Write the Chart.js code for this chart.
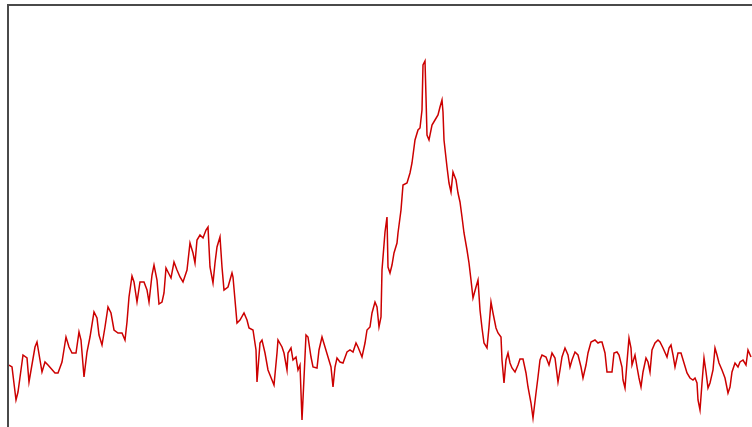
<!DOCTYPE html>
<html>
<head>
<meta charset="utf-8">
<script src="https://cdn.jsdelivr.net/npm/chart.js@4/dist/chart.umd.min.js"></script>
<style>
    html, body { margin: 0; padding: 0; background: #fff; }
    #wrap { width: 752px; height: 427px; position: relative; }
</style>
</head>
<body>
<div id="wrap"><canvas id="spectrum"></canvas></div>
<script>
// channel positions and counts
const channels = [
    0, 3, 7, 9, 14, 18, 20, 26, 28, 33, 36, 39, 46, 49, 53, 57, 60, 63, 67, 70,
    72, 75, 78, 81, 85, 88, 90, 93, 96, 99, 102, 105, 109, 113, 116, 118, 120, 123, 125, 128,
    131, 135, 138, 140, 143, 145, 148, 150, 153, 155, 157, 159, 162, 165, 168, 171, 174, 178, 181, 184,
    186, 188, 191, 194, 197, 199, 201, 204, 206, 208, 211, 213, 215, 219, 223, 224, 226, 228, 231, 235,
    238, 240, 244, 247, 248, 251, 253, 256, 259, 263, 265, 268, 269, 273, 275, 278, 279, 282, 284, 287,
    289, 291, 293, 295, 297, 299, 302, 304, 308, 310, 313, 316, 319, 322, 324, 326, 328, 331, 334, 338,
    341, 344, 347, 349, 353, 356, 358, 361, 363, 366, 368, 370, 372, 373, 376, 378, 379, 381, 383, 385,
    388, 389, 392, 394, 398, 401, 403, 406, 409, 411, 413, 414, 416, 417, 418, 420, 423, 426, 429, 431,
    433, 434, 435, 438, 440, 442, 444, 447, 449, 451, 453, 455, 458, 460, 462, 464, 467, 469, 471, 473,
    475, 478, 480, 482, 484, 487, 489, 492, 493, 495, 497, 499, 501, 503, 506, 509, 511, 514, 517, 519,
    522, 524, 527, 529, 531, 533, 537, 540, 543, 546, 549, 551, 553, 556, 559, 561, 563, 566, 569, 572,
    574, 577, 579, 582, 586, 589, 591, 593, 596, 598, 603, 605, 608, 610, 613, 614, 616, 618, 620, 622,
    623, 626, 628, 630, 632, 634, 637, 639, 641, 643, 646, 649, 651, 654, 658, 660, 662, 664, 666, 669,
    672, 675, 678, 681, 684, 686, 688, 689, 691, 693, 695, 697, 699, 701, 704, 706, 708, 710, 713, 716,
    719, 721, 723, 726, 729, 731, 734, 737, 739, 742
];
const counts = [
    62, 60, 27, 35, 72, 69, 45, 80, 85, 55, 65, 62, 54, 54, 65, 90, 80, 74, 74, 95,
    87, 50, 75, 90, 115, 109, 92, 82, 100, 120, 114, 97, 94, 94, 87, 105, 130, 151, 145, 125,
    145, 145, 137, 125, 152, 162, 147, 123, 125, 134, 159, 155, 149, 165, 157, 150, 145, 157, 184, 174,
    164, 187, 192, 189, 197, 200, 160, 144, 164, 180, 190, 160, 137, 140, 154, 150, 127, 104, 107, 114,
    107, 99, 97, 77, 45, 84, 87, 74, 57, 47, 42, 74, 87, 80, 74, 57, 74, 79, 67, 70,
    57, 62, 7, 49, 92, 90, 70, 60, 59, 77, 90, 80, 70, 60, 40, 60, 69, 65, 64, 75,
    77, 75, 84, 80, 70, 84, 97, 100, 114, 125, 120, 100, 110, 157, 195, 210, 160, 154, 162, 174,
    184, 194, 217, 242, 244, 254, 264, 287, 297, 299, 317, 362, 366, 330, 292, 287, 302, 307, 312, 320,
    327, 315, 287, 260, 244, 235, 255, 247, 234, 225, 210, 194, 177, 164, 147, 129, 140, 147, 117, 99,
    84, 79, 100, 125, 114, 99, 94, 90, 67, 44, 67, 74, 64, 59, 55, 62, 68, 68, 54, 40,
    24, 9, 34, 50, 67, 72, 70, 62, 74, 69, 45, 57, 70, 79, 72, 60, 67, 75, 72, 60,
    49, 62, 74, 85, 87, 84, 85, 85, 74, 55, 55, 74, 75, 72, 60, 47, 39, 65, 89, 79,
    62, 72, 60, 49, 40, 55, 69, 65, 55, 77, 84, 87, 85, 79, 70, 79, 82, 72, 60, 74,
    74, 64, 54, 49, 47, 49, 44, 27, 17, 44, 69, 55, 39, 44, 57, 79, 72, 64, 57, 49,
    34, 40, 55, 64, 60, 65, 67, 62, 77, 70
];

const xRange = [0, 743];
const yRange = [0, 421];

// dark frame on the top and left edge of the plot area
const framePlugin = {
    id: 'frame',
    beforeDatasetsDraw(chart) {
        const {ctx, chartArea: {left, top}, width, height} = chart;
        ctx.save();
        ctx.strokeStyle = '#4a4a4a';
        ctx.lineWidth = 2;
        ctx.beginPath();
        ctx.moveTo(left - 1, height + 2);
        ctx.lineTo(left - 1, top - 1);
        ctx.lineTo(width + 2, top - 1);
        ctx.stroke();
        ctx.restore();
    }
};

let points = channels.map((c, i) => ({x: c, y: counts[i]}));

new Chart(document.getElementById('spectrum').getContext('2d'), {
    type: 'line',
    data: {
        datasets: [{
            data: points,
            borderColor: '#cc0000',
            borderWidth: 1.5,
            pointRadius: 0,
            tension: 0,
            fill: false
        }]
    },
    options: {
        responsive: true,
        maintainAspectRatio: false,
        animation: false,
        layout: {padding: {left: 9, top: 6, right: 0, bottom: 0}},
        plugins: {legend: {display: false}, tooltip: {enabled: false}},
        scales: {
            x: {type: 'linear', min: xRange[0], max: xRange[1], display: false},
            y: {min: yRange[0], max: yRange[1], display: false}
        }
    },
    plugins: [framePlugin]
});
</script>
</body>
</html>
